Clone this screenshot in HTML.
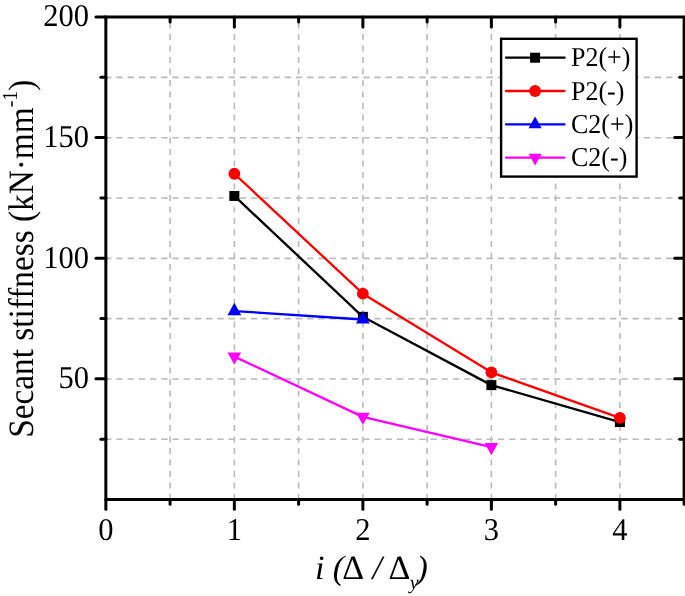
<!DOCTYPE html>
<html><head><meta charset="utf-8"><style>
html,body{margin:0;padding:0;background:#fff;}
svg{display:block;}
text{text-rendering:geometricPrecision;font-family:"Liberation Serif","Times New Roman",serif;fill:#000;}
</style></head><body>
<svg width="685" height="596" viewBox="0 0 685 596">
<rect width="685" height="596" fill="#fff"/>
<line x1="170.10" y1="500.10" x2="170.10" y2="16.90" stroke="#bbbbbb" stroke-width="1.6" stroke-dasharray="6.1 5.4"/>
<line x1="234.36" y1="500.10" x2="234.36" y2="16.90" stroke="#bbbbbb" stroke-width="1.6" stroke-dasharray="6.1 5.4"/>
<line x1="298.62" y1="500.10" x2="298.62" y2="16.90" stroke="#bbbbbb" stroke-width="1.6" stroke-dasharray="6.1 5.4"/>
<line x1="362.87" y1="500.10" x2="362.87" y2="16.90" stroke="#bbbbbb" stroke-width="1.6" stroke-dasharray="6.1 5.4"/>
<line x1="427.12" y1="500.10" x2="427.12" y2="16.90" stroke="#bbbbbb" stroke-width="1.6" stroke-dasharray="6.1 5.4"/>
<line x1="491.38" y1="500.10" x2="491.38" y2="16.90" stroke="#bbbbbb" stroke-width="1.6" stroke-dasharray="6.1 5.4"/>
<line x1="555.63" y1="500.10" x2="555.63" y2="16.90" stroke="#bbbbbb" stroke-width="1.6" stroke-dasharray="6.1 5.4"/>
<line x1="619.89" y1="500.10" x2="619.89" y2="16.90" stroke="#bbbbbb" stroke-width="1.6" stroke-dasharray="6.1 5.4"/>
<line x1="105.1" y1="439.32" x2="684.14" y2="439.32" stroke="#bbbbbb" stroke-width="1.6" stroke-dasharray="6.4 4.82"/>
<line x1="105.1" y1="379.00" x2="684.14" y2="379.00" stroke="#bbbbbb" stroke-width="1.6" stroke-dasharray="6.4 4.82"/>
<line x1="105.1" y1="318.67" x2="684.14" y2="318.67" stroke="#bbbbbb" stroke-width="1.6" stroke-dasharray="6.4 4.82"/>
<line x1="105.1" y1="258.35" x2="684.14" y2="258.35" stroke="#bbbbbb" stroke-width="1.6" stroke-dasharray="6.4 4.82"/>
<line x1="105.1" y1="198.03" x2="684.14" y2="198.03" stroke="#bbbbbb" stroke-width="1.6" stroke-dasharray="6.4 4.82"/>
<line x1="105.1" y1="137.70" x2="684.14" y2="137.70" stroke="#bbbbbb" stroke-width="1.6" stroke-dasharray="6.4 4.82"/>
<line x1="105.1" y1="77.38" x2="684.14" y2="77.38" stroke="#bbbbbb" stroke-width="1.6" stroke-dasharray="6.4 4.82"/>
<polyline points="234.36,195.94 362.87,316.84 491.38,385.12 619.89,422.04" fill="none" stroke="#000000" stroke-width="2.3" stroke-linejoin="round"/>
<rect x="229.36" y="190.94" width="10" height="10" fill="#000000"/>
<rect x="357.87" y="311.84" width="10" height="10" fill="#000000"/>
<rect x="486.38" y="380.12" width="10" height="10" fill="#000000"/>
<rect x="614.89" y="417.04" width="10" height="10" fill="#000000"/>
<polyline points="234.36,173.75 362.87,293.67 491.38,372.33 619.89,417.94" fill="none" stroke="#FF0000" stroke-width="2.3" stroke-linejoin="round"/>
<circle cx="234.36" cy="173.75" r="5.9" fill="#FF0000"/>
<circle cx="362.87" cy="293.67" r="5.9" fill="#FF0000"/>
<circle cx="491.38" cy="372.33" r="5.9" fill="#FF0000"/>
<circle cx="619.89" cy="417.94" r="5.9" fill="#FF0000"/>
<polyline points="234.36,311.04 362.87,319.49" fill="none" stroke="#0000FF" stroke-width="2.3" stroke-linejoin="round"/>
<polygon points="234.36,302.84 241.26,315.14 227.46,315.14" fill="#0000FF"/>
<polygon points="362.87,311.29 369.77,323.59 355.97,323.59" fill="#0000FF"/>
<polyline points="234.36,356.65 362.87,416.85 491.38,447.14" fill="none" stroke="#FF00FF" stroke-width="2.3" stroke-linejoin="round"/>
<polygon points="227.56,352.58 241.16,352.58 234.36,364.78" fill="#FF00FF"/>
<polygon points="356.07,412.79 369.67,412.79 362.87,424.99" fill="#FF00FF"/>
<polygon points="484.58,443.07 498.18,443.07 491.38,455.27" fill="#FF00FF"/>
<g stroke="#000" stroke-width="3.0" stroke-linecap="round" fill="none">
<path d="M105.85,499.50 H684.14 V16.90 H105.85 Z" stroke-linecap="square"/>
<line x1="105.85" y1="378.85" x2="95.95" y2="378.85"/>
<line x1="105.85" y1="258.20" x2="95.95" y2="258.20"/>
<line x1="105.85" y1="137.55" x2="95.95" y2="137.55"/>
<line x1="105.85" y1="16.90" x2="95.95" y2="16.90"/>
<line x1="105.85" y1="439.18" x2="100.85" y2="439.18"/>
<line x1="105.85" y1="318.52" x2="100.85" y2="318.52"/>
<line x1="105.85" y1="197.88" x2="100.85" y2="197.88"/>
<line x1="105.85" y1="77.23" x2="100.85" y2="77.23"/>
<line x1="684.14" y1="378.85" x2="674.64" y2="378.85"/>
<line x1="684.14" y1="258.20" x2="674.64" y2="258.20"/>
<line x1="684.14" y1="137.55" x2="674.64" y2="137.55"/>
<line x1="684.14" y1="439.18" x2="679.85" y2="439.18"/>
<line x1="684.14" y1="318.52" x2="679.85" y2="318.52"/>
<line x1="684.14" y1="197.88" x2="679.85" y2="197.88"/>
<line x1="684.14" y1="77.23" x2="679.85" y2="77.23"/>
<line x1="105.85" y1="499.50" x2="105.85" y2="509.30"/>
<line x1="234.36" y1="499.50" x2="234.36" y2="509.30"/>
<line x1="362.87" y1="499.50" x2="362.87" y2="509.30"/>
<line x1="491.38" y1="499.50" x2="491.38" y2="509.30"/>
<line x1="619.89" y1="499.50" x2="619.89" y2="509.30"/>
<line x1="170.10" y1="499.50" x2="170.10" y2="504.30"/>
<line x1="298.62" y1="499.50" x2="298.62" y2="504.30"/>
<line x1="427.12" y1="499.50" x2="427.12" y2="504.30"/>
<line x1="555.63" y1="499.50" x2="555.63" y2="504.30"/>
<line x1="684.14" y1="499.50" x2="684.14" y2="504.30"/>
<line x1="234.36" y1="16.90" x2="234.36" y2="26.90"/>
<line x1="362.87" y1="16.90" x2="362.87" y2="26.90"/>
<line x1="491.38" y1="16.90" x2="491.38" y2="26.90"/>
<line x1="619.89" y1="16.90" x2="619.89" y2="26.90"/>
<line x1="170.10" y1="16.90" x2="170.10" y2="22.10"/>
<line x1="298.62" y1="16.90" x2="298.62" y2="22.10"/>
<line x1="427.12" y1="16.90" x2="427.12" y2="22.10"/>
<line x1="555.63" y1="16.90" x2="555.63" y2="22.10"/>
</g>
<text transform="translate(88.9,388.25) scale(1,1.04)" text-anchor="end" font-size="30.5">50</text>
<text transform="translate(88.9,267.60) scale(1,1.04)" text-anchor="end" font-size="30.5">100</text>
<text transform="translate(88.9,146.95) scale(1,1.04)" text-anchor="end" font-size="30.5">150</text>
<text transform="translate(88.9,26.30) scale(1,1.04)" text-anchor="end" font-size="30.5">200</text>
<text transform="translate(105.85,539.7) scale(1,1.04)" text-anchor="middle" font-size="30.5">0</text>
<text transform="translate(234.36,539.7) scale(1,1.04)" text-anchor="middle" font-size="30.5">1</text>
<text transform="translate(362.87,539.7) scale(1,1.04)" text-anchor="middle" font-size="30.5">2</text>
<text transform="translate(491.38,539.7) scale(1,1.04)" text-anchor="middle" font-size="30.5">3</text>
<text transform="translate(619.89,539.7) scale(1,1.04)" text-anchor="middle" font-size="30.5">4</text>
<text transform="translate(33.2,437.8) rotate(-90) scale(0.9514,1.02)" font-size="35">Secant stiffness (kN·mm<tspan dy="-16" font-size="21">-1</tspan><tspan dy="16">)</tspan></text>
<text x="314.9" y="578.5" font-size="34" font-style="italic">i</text>
<text x="332.7" y="578.5" font-size="34" font-style="italic">(</text>
<text x="342.2" y="578.5" font-size="34" font-style="normal">Δ</text>
<text x="372.6" y="578.5" font-size="34" font-style="italic">/</text>
<text x="388.4" y="578.5" font-size="34" font-style="normal">Δ</text>
<text x="409.7" y="589.2" font-size="20" font-style="italic">y</text>
<text x="416.6" y="578.5" font-size="34" font-style="italic">)</text>
<rect x="501.1" y="38.8" width="135.5" height="137.8" fill="#fff" stroke="#000" stroke-width="2.4"/>
<line x1="506" y1="57.7" x2="564.6" y2="57.7" stroke="#000000" stroke-width="2.3" stroke-linecap="round"/>
<rect x="530.10" y="52.70" width="10" height="10" fill="#000000"/>
<text transform="translate(571,66.20) scale(1,1.05)" font-size="26">P2(+)</text>
<line x1="506" y1="91.0" x2="564.6" y2="91.0" stroke="#FF0000" stroke-width="2.3" stroke-linecap="round"/>
<circle cx="535.10" cy="91.00" r="5.9" fill="#FF0000"/>
<text transform="translate(571,99.50) scale(1,1.05)" font-size="26">P2(-)</text>
<line x1="506" y1="124.35" x2="564.6" y2="124.35" stroke="#0000FF" stroke-width="2.3" stroke-linecap="round"/>
<polygon points="535.10,116.56 541.65,128.25 528.55,128.25" fill="#0000FF"/>
<text transform="translate(571,132.85) scale(1,1.05)" font-size="26">C2(+)</text>
<line x1="506" y1="157.7" x2="564.6" y2="157.7" stroke="#FF00FF" stroke-width="2.3" stroke-linecap="round"/>
<polygon points="528.64,153.84 541.56,153.84 535.10,165.43" fill="#FF00FF"/>
<text transform="translate(571,166.20) scale(1,1.05)" font-size="26">C2(-)</text>
</svg>
</body></html>
